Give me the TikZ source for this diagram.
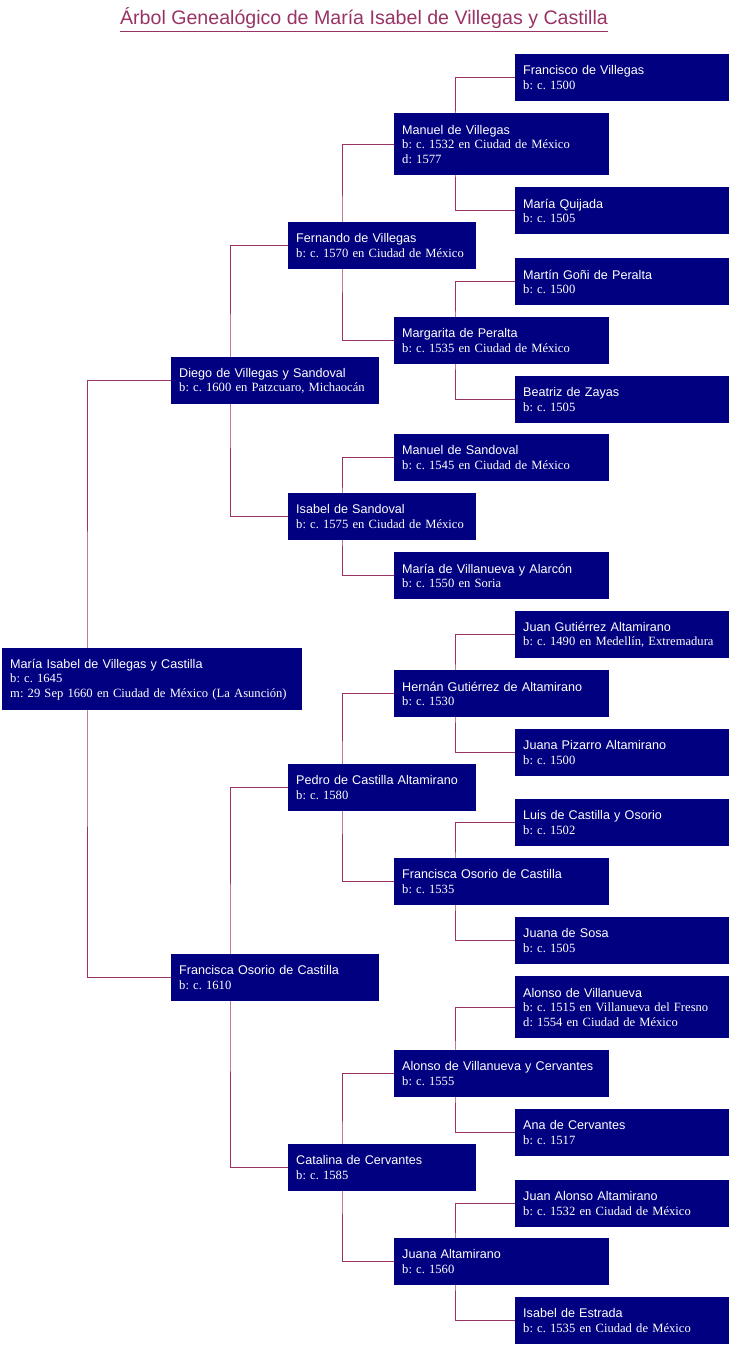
\documentclass[tikz,border=0pt]{standalone}
\usepackage{fontspec}
\setmainfont{Liberation Serif}
\setsansfont{Liberation Sans}
\usetikzlibrary{positioning,calc}
\definecolor{navybox}{RGB}{0,0,128}
\definecolor{linkred}{RGB}{153,51,102}
\pgfdeclarelayer{background}
\pgfsetlayers{background,main}
\frenchspacing
\newcommand{\who}[1]{{\sffamily #1}}
\tikzset{
  person/.style={rectangle, fill=navybox, text=white, anchor=north west,
    inner xsep=8pt, inner ysep=0pt, align=left, minimum height=47pt,
    text width=#1, font=\fontsize{12.6}{14.5}\selectfont},
  tall/.style={minimum height=62pt},
  link/.style={draw=linkred, line width=1pt}
}

\begin{document}
\begin{tikzpicture}[x=1pt,y=-1pt]
  \useasboundingbox (0,0) rectangle (730,1346);
  \node[anchor=base, inner sep=0pt, text=linkred, font=\sffamily\fontsize{19.6}{22}\selectfont] (title) at (364,25)
    {Árbol Genealógico de María Isabel de Villegas y Castilla};
  \draw[linkred, line width=1.6pt] ([yshift=-6.5pt]title.base west) -- ([yshift=-6.5pt]title.base east);

  % root
  \node[person=284pt, tall] (maria) at (2,648)
    {\who{María Isabel de Villegas y Castilla}\\b: c. 1645\\m: 29 Sep 1660 en Ciudad de México (La Asunción)};

  % parents
  \node[person=192pt] (diego) at (171,357) {\who{Diego de Villegas y Sandoval}\\b: c. 1600 en Patzcuaro, Michaocán};
  \node[person=192pt] (francisca) at (171,954) {\who{Francisca Osorio de Castilla}\\b: c. 1610};

  % grandparents
  \node[person=172pt] (fernando) at (288,222) {\who{Fernando de Villegas}\\b: c. 1570 en Ciudad de México};
  \node[person=172pt] (isabelS) at (288,493) {\who{Isabel de Sandoval}\\b: c. 1575 en Ciudad de México};
  \node[person=172pt] (pedro) at (288,764) {\who{Pedro de Castilla Altamirano}\\b: c. 1580};
  \node[person=172pt] (catalina) at (288,1144) {\who{Catalina de Cervantes}\\b: c. 1585};

  % great-grandparents
  \node[person=199pt, tall] (manuelV) at (394,113) {\who{Manuel de Villegas}\\b: c. 1532 en Ciudad de México\\d: 1577};
  \node[person=199pt] (margarita) at (394,317) {\who{Margarita de Peralta}\\b: c. 1535 en Ciudad de México};
  \node[person=199pt] (manuelS) at (394,434) {\who{Manuel de Sandoval}\\b: c. 1545 en Ciudad de México};
  \node[person=199pt] (mariaVA) at (394,552) {\who{María de Villanueva y Alarcón}\\b: c. 1550 en Soria};
  \node[person=199pt] (hernan) at (394,670) {\who{Hernán Gutiérrez de Altamirano}\\b: c. 1530};
  \node[person=199pt] (franciscaO) at (394,858) {\who{Francisca Osorio de Castilla}\\b: c. 1535};
  \node[person=199pt] (alonsoVC) at (394,1050) {\who{Alonso de Villanueva y Cervantes}\\b: c. 1555};
  \node[person=199pt] (juanaA) at (394,1238) {\who{Juana Altamirano}\\b: c. 1560};

  % great-great-grandparents
  \node[person=198pt] (francisco) at (515,54) {\who{Francisco de Villegas}\\b: c. 1500};
  \node[person=198pt] (mariaQ) at (515,187) {\who{María Quijada}\\b: c. 1505};
  \node[person=198pt] (martin) at (515,258) {\who{Martín Goñi de Peralta}\\b: c. 1500};
  \node[person=198pt] (beatriz) at (515,376) {\who{Beatriz de Zayas}\\b: c. 1505};
  \node[person=198pt] (juanG) at (515,611) {\who{Juan Gutiérrez Altamirano}\\b: c. 1490 en Medellín, Extremadura};
  \node[person=198pt] (juanaP) at (515,729) {\who{Juana Pizarro Altamirano}\\b: c. 1500};
  \node[person=198pt] (luis) at (515,799) {\who{Luis de Castilla y Osorio}\\b: c. 1502};
  \node[person=198pt] (juanaS) at (515,917) {\who{Juana de Sosa}\\b: c. 1505};
  \node[person=198pt, tall] (alonsoV) at (515,976) {\who{Alonso de Villanueva}\\b: c. 1515 en Villanueva del Fresno\\d: 1554 en Ciudad de México};
  \node[person=198pt] (ana) at (515,1109) {\who{Ana de Cervantes}\\b: c. 1517};
  \node[person=198pt] (juanAA) at (515,1180) {\who{Juan Alonso Altamirano}\\b: c. 1532 en Ciudad de México};
  \node[person=198pt] (isabelE) at (515,1297) {\who{Isabel de Estrada}\\b: c. 1535 en Ciudad de México};

  % connectors (behind the boxes)
  \begin{pgfonlayer}{background}
    \draw[link] (diego.west) -| ([xshift=85pt]maria.west) |- (francisca.west);
    \draw[link] (fernando.west) -| ([xshift=59pt]diego.west) |- (isabelS.west);
    \draw[link] (pedro.west) -| ([xshift=59pt]francisca.west) |- (catalina.west);
    \draw[link] (manuelV.west) -| ([xshift=54pt]fernando.west) |- (margarita.west);
    \draw[link] (manuelS.west) -| ([xshift=54pt]isabelS.west) |- (mariaVA.west);
    \draw[link] (hernan.west) -| ([xshift=54pt]pedro.west) |- (franciscaO.west);
    \draw[link] (alonsoVC.west) -| ([xshift=54pt]catalina.west) |- (juanaA.west);
    \draw[link] (francisco.west) -| ([xshift=61pt]manuelV.west) |- (mariaQ.west);
    \draw[link] (martin.west) -| ([xshift=61pt]margarita.west) |- (beatriz.west);
    \draw[link] (juanG.west) -| ([xshift=61pt]hernan.west) |- (juanaP.west);
    \draw[link] (luis.west) -| ([xshift=61pt]franciscaO.west) |- (juanaS.west);
    \draw[link] (alonsoV.west) -| ([xshift=61pt]alonsoVC.west) |- (ana.west);
    \draw[link] (juanAA.west) -| ([xshift=61pt]juanaA.west) |- (isabelE.west);
  \end{pgfonlayer}
\end{tikzpicture}
\end{document}
